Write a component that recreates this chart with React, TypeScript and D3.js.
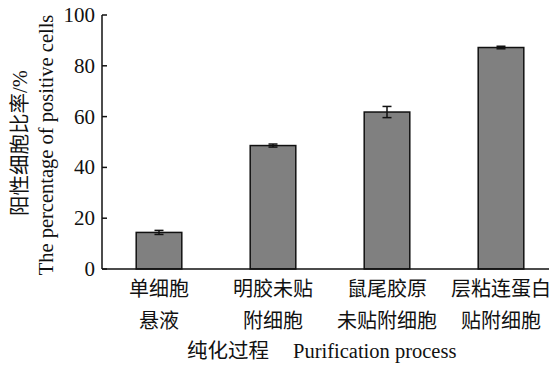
import React from 'react';
import * as d3 from 'd3';

// categories (two lines each) and values
const labelsTop = ['单细胞', '明胶未贴', '鼠尾胶原', '层粘连蛋白'];
const labelsBottom = ['悬液', '附细胞', '未贴附细胞', '贴附细胞'];
const values = [14.4, 48.6, 61.8, 87.2];
const errors = [0.8, 0.6, 2.2, 0.5];
const yTicks = [0, 20, 40, 60, 80, 100];

const font = '"Liberation Serif", "Times New Roman", "Noto Sans CJK SC", serif';

export default function App() {
    const width = 555;
    const height = 365;
    const margin = { top: 15, right: 6, bottom: 96, left: 102 };
    const x0 = margin.left;
    const y0 = height - margin.bottom;

    const xScale = d3.scaleBand<number>()
        .domain(d3.range(values.length))
        .range([x0, x0 + 456])
        .paddingInner(0.6)
        .paddingOuter(0.3);
    const yScale = d3.scaleLinear().domain([0, 100]).range([y0, margin.top]);

    return (
        <svg width={width} height={height} style={{ position: 'absolute', left: 0, top: 0, background: '#fff' }}
            fontFamily={font}>
            {/* bars */}
            {values.map((v, i) => (
                <rect
                    key={i}
                    x={xScale(i)}
                    y={yScale(v)}
                    width={xScale.bandwidth()}
                    height={y0 - yScale(v)}
                    fill="#808080"
                    stroke="#111"
                    strokeWidth={1.5}
                />
            ))}
            {/* error bars */}
            {values.map((v, i) => {
                const cx = (xScale(i) as number) + xScale.bandwidth() / 2;
                const hi = yScale(v + errors[i]);
                const lo = yScale(v - errors[i]);
                return (
                    <g key={i} stroke="#111" strokeWidth={1.5}>
                        <line x1={cx} x2={cx} y1={hi} y2={lo} />
                        <line x1={cx - 4.5} x2={cx + 4.5} y1={hi} y2={hi} />
                        <line x1={cx - 4.5} x2={cx + 4.5} y1={lo} y2={lo} />
                    </g>
                );
            })}
            {/* axes */}
            <line x1={x0} x2={x0} y1={margin.top} y2={y0} stroke="#111" strokeWidth={1.5} />
            <line x1={x0} x2={549} y1={y0} y2={y0} stroke="#111" strokeWidth={1.5} />
            {yTicks.map(t => (
                <g key={t}>
                    <line x1={x0} x2={x0 + 5} y1={yScale(t)} y2={yScale(t)} stroke="#111" strokeWidth={1.5} />
                    <text x={x0 - 7} y={yScale(t)} dy="0.33em" textAnchor="end" fontSize="21px" fill="#111">
                        {t}
                    </text>
                </g>
            ))}
            {/* category labels */}
            {values.map((_, i) => {
                const cx = (xScale(i) as number) + xScale.bandwidth() / 2;
                return (
                    <g key={i} fontSize="20px" fill="#111" textAnchor="middle">
                        <text x={cx} y={296}>{labelsTop[i]}</text>
                        <text x={cx} y={328}>{labelsBottom[i]}</text>
                    </g>
                );
            })}
            <text x={187} y={358} fontSize="20.5px" fill="#111">纯化过程</text>
            <text x={293} y={358} fontSize="20.5px" fill="#111">Purification process</text>
            {/* y axis title */}
            <text transform="translate(27,143) rotate(-90)" textAnchor="middle" fontSize="20.5px" fill="#111">
                阳性细胞比率/%
            </text>
            <text transform="translate(53,145) rotate(-90)" textAnchor="middle" fontSize="20.5px" fill="#111">
                The percentage of positive cells
            </text>
        </svg>
    );
}
